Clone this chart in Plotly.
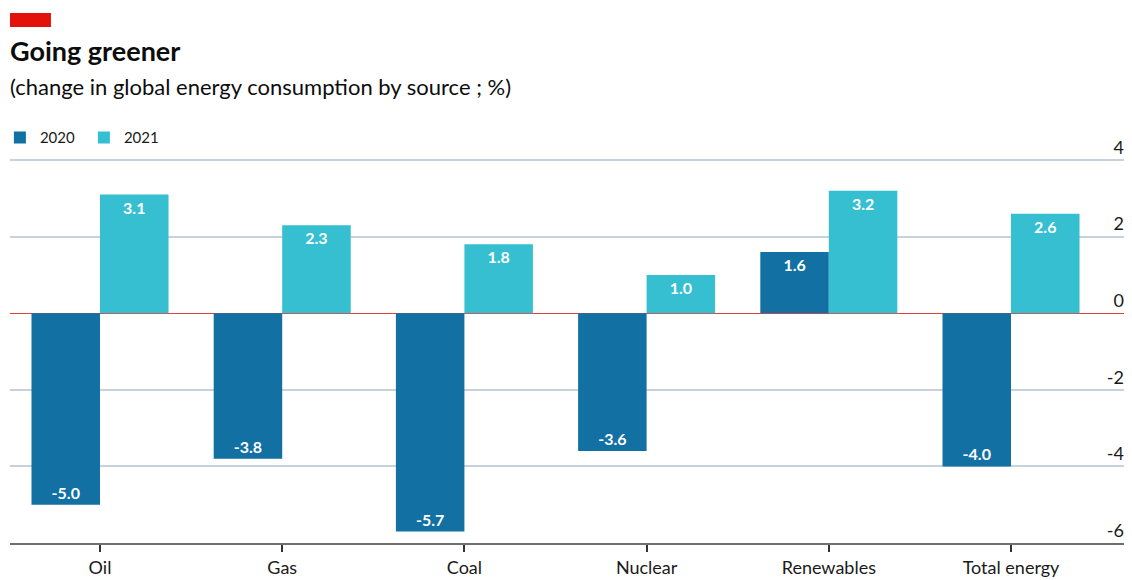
import plotly.graph_objects as go

categories = ["Oil", "Gas", "Coal", "Nuclear", "Renewables", "Total energy"]
values_2020 = [-5.0, -3.8, -5.7, -3.6, 1.6, -4.0]
values_2021 = [3.1, 2.3, 1.8, 1.0, 3.2, 2.6]
y_ticks = [-6, -4, -2, 0, 2, 4]

C2020 = "#1270a3"
C2021 = "#35bfd0"
FONT = "Lato"

fig = go.Figure()
for name, vals, col in [("2020", values_2020, C2020), ("2021", values_2021, C2021)]:
    fig.add_trace(go.Bar(
        x=categories, y=vals, name=name, marker_color=col, marker_line_width=0,
        text=[f"{v:.1f}" for v in vals], textposition="inside", insidetextanchor="end",
        textfont=dict(color="white", size=16, family=FONT, weight="bold"),
        textangle=0, cliponaxis=False,
    ))

# page body has an 8px margin, so the figure is offset by 8px right and down
fig.update_layout(
    width=1132, height=580,
    margin=dict(l=2, r=8, t=131, b=45, autoexpand=False),
    paper_bgcolor="white", plot_bgcolor="white",
    barmode="group", bargap=0.248, bargroupgap=0,
    font=dict(family=FONT, color="#1a1a1a"),
    legend=dict(orientation="h", x=-0.009, xanchor="left", y=1.003, yanchor="middle",
                font=dict(size=15, family=FONT, color="#1a1a1a"),
                entrywidth=39, bgcolor="rgba(0,0,0,0)"),
    showlegend=True,
)
fig.update_xaxes(
    range=[-0.494, 5.664], showline=True, linecolor="#6f6f6f", linewidth=2,
    ticks="outside", ticklen=7, tickcolor="#333333", tickwidth=1.5,
    tickfont=dict(size=18, family=FONT, color="#1a1a1a"), showgrid=False,
    fixedrange=True,
)
fig.update_yaxes(
    range=[-6, 4.55], side="right", tickvals=y_ticks, ticktext=[str(t) for t in y_ticks],
    ticklabelposition="inside top", ticklabelstandoff=5, ticklabeloverflow="allow",
    tickfont=dict(size=18, family=FONT, color="#1a1a1a"),
    showgrid=True, gridcolor="#c6d3dd", gridwidth=1.5,
    zeroline=True, zerolinecolor="#e0433a", zerolinewidth=1.3,
    ticks="", fixedrange=True,
)

fig.add_shape(type="rect", xref="paper", yref="paper", x0=0, x1=0.0365, y0=1.277, y1=1.312,
              fillcolor="#e3120b", line_width=0)
fig.add_annotation(text="<b>Going greener</b>", xref="paper", yref="paper", x=-0.002, y=1.220,
                   xanchor="left", yanchor="middle", showarrow=False,
                   font=dict(size=27, family=FONT, color="#0d0d0d"))
fig.add_annotation(text="(change in global energy consumption by source ; %)", xref="paper", yref="paper",
                   x=-0.002, y=1.131, xanchor="left", yanchor="middle", showarrow=False,
                   font=dict(size=22, family=FONT, color="#0d0d0d"))

fig.write_html("out.html")
